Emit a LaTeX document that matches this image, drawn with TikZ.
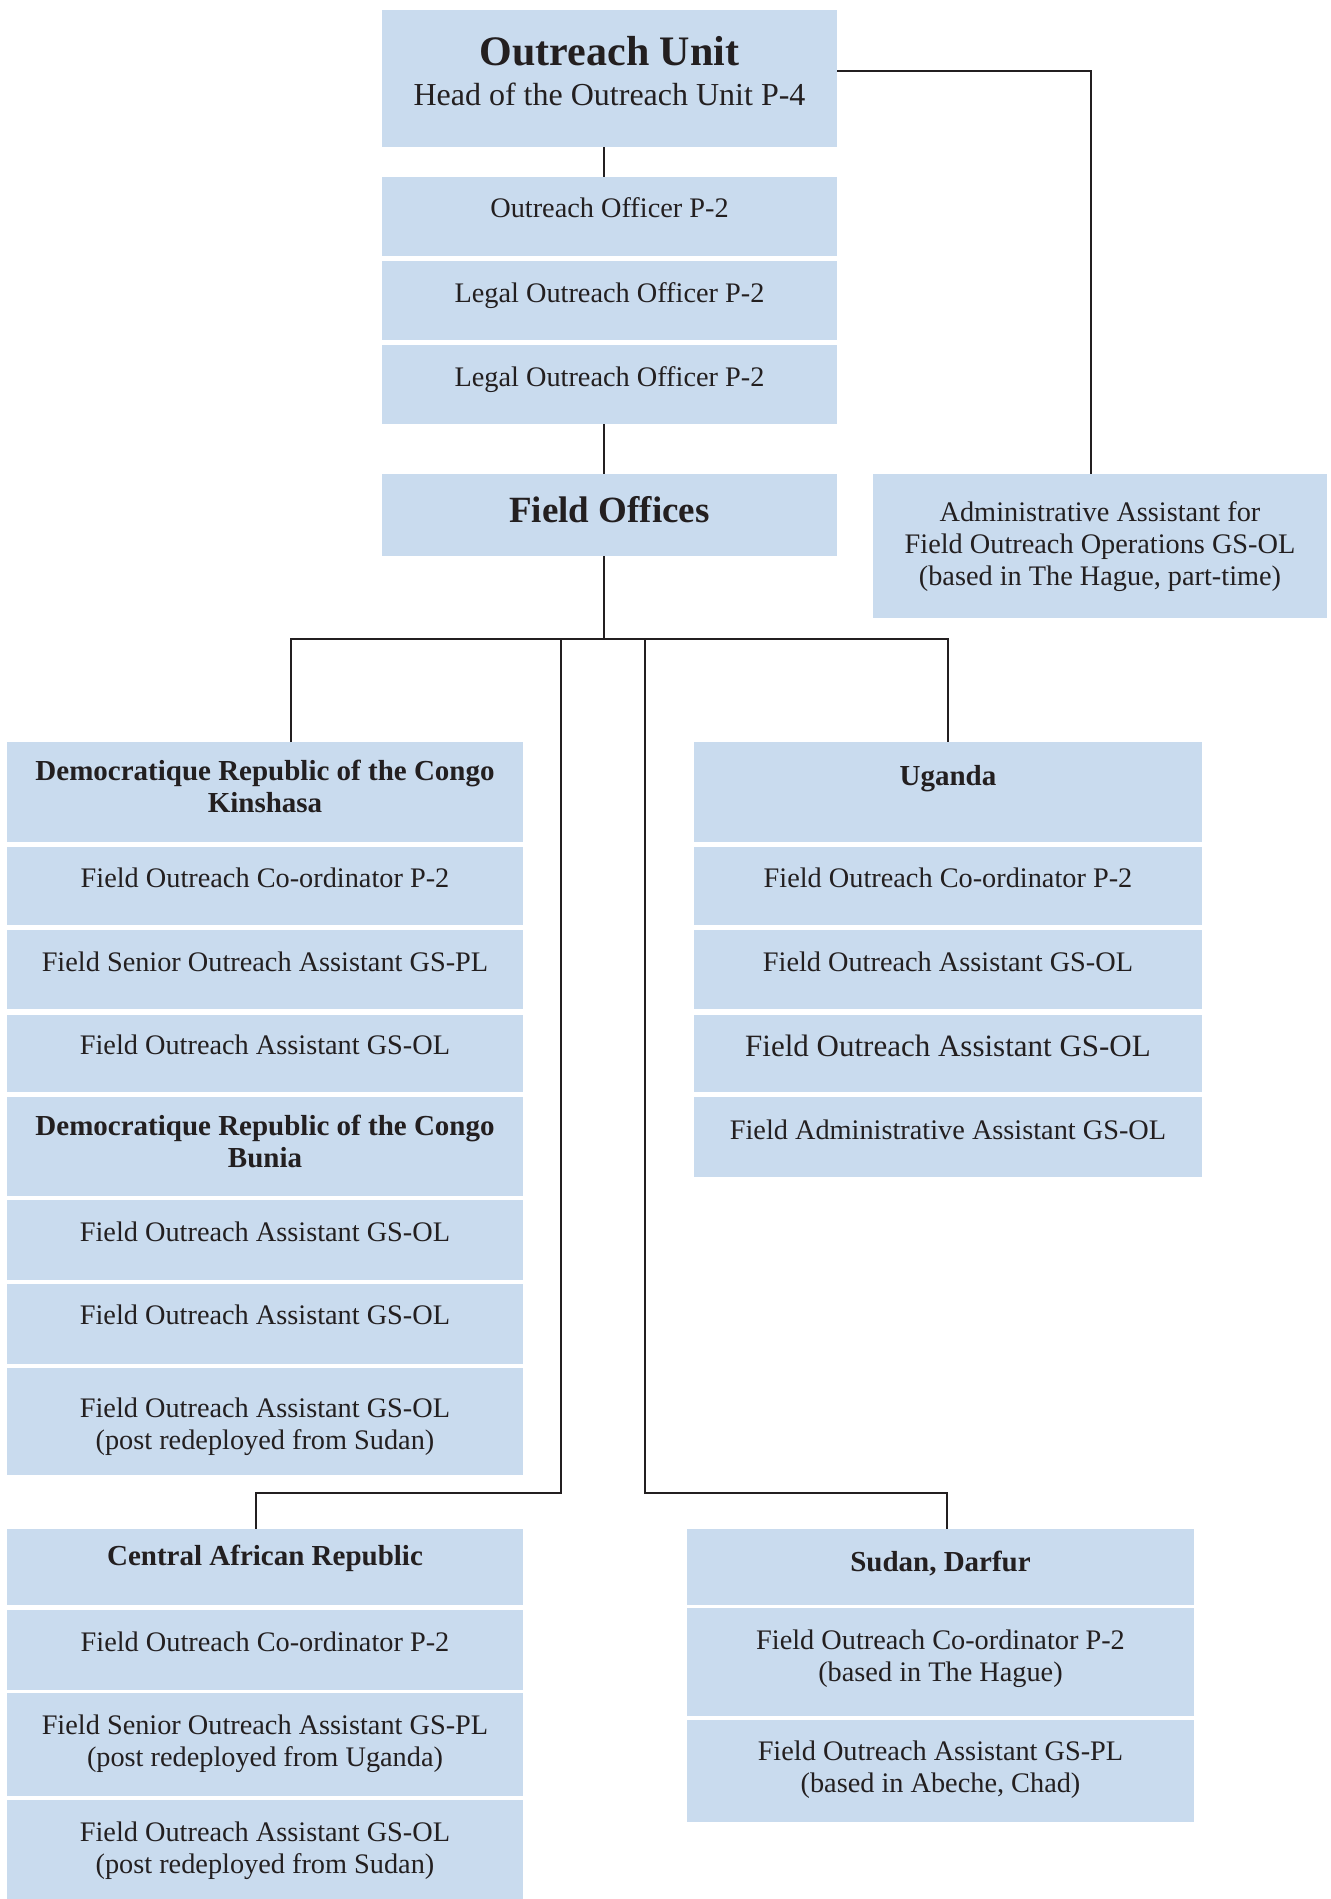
\documentclass[tikz,border=0pt]{standalone}
\usepackage{fontspec}
\setmainfont{Liberation Serif}
\definecolor{boxfill}{HTML}{C9DBEE}
\definecolor{ink}{HTML}{231F20}
\tikzset{
  box/.style={draw=none, fill=boxfill, inner sep=0pt, outer sep=0pt},
  txt/.style={inner sep=0pt, outer sep=0pt, align=center, text=ink, font=\fontsize{28.3}{32}\selectfont},
  head/.style={txt, font=\fontsize{29}{32}\selectfont\bfseries},
  conn/.style={draw=ink, line width=2.5pt}
}
\newcommand\orgbox[8][txt]{%
  \node[box, minimum width={#5-#3}, minimum height={#6-#4}] (#2) at ({(#3+#5)/2},{(#4+#6)/2}) {};
  \node[#1, anchor=north] (#2-t) at ({(#3+#5)/2},#7) {#8};
}
\begin{document}
\begin{tikzpicture}[x=1pt, y=-1pt]
\useasboundingbox (0,0) rectangle (1331,1899);

% top column
\node[box, minimum width=455, minimum height=137] (ou) at (609.5,78.5) {};
\node[txt, anchor=north, font=\fontsize{42}{46}\selectfont\bfseries] (ou-title) at (609.5,36) {Outreach Unit};
\node[txt, anchor=north, font=\fontsize{32}{36}\selectfont] (ou-sub) at (609.5,83) {Head of the Outreach Unit P-4};
\orgbox{oo}{382}{177}{837}{256}{198}{Outreach Officer P-2}
\orgbox{lo1}{382}{261}{837}{340}{283}{Legal Outreach Officer P-2}
\orgbox{lo2}{382}{345}{837}{424}{367}{Legal Outreach Officer P-2}
\orgbox[head]{fo}{382}{474}{837}{556}{496}{\fontsize{37}{40}\selectfont Field Offices}
\orgbox{admin}{873}{474}{1327}{618}{502}{Administrative Assistant for\\Field Outreach Operations GS-OL\\(based in The Hague, part-time)}

% DRC column
\orgbox[head]{drc1}{7}{742}{523}{842}{760}{Democratique Republic of the Congo\\Kinshasa}
\orgbox{d1a}{7}{847}{523}{925}{868}{Field Outreach Co-ordinator P-2}
\orgbox{d1b}{7}{930}{523}{1009}{952}{Field Senior Outreach Assistant GS-PL}
\orgbox{d1c}{7}{1015}{523}{1092}{1035}{Field Outreach Assistant GS-OL}
\orgbox[head]{drc2}{7}{1097}{523}{1196}{1115}{Democratique Republic of the Congo\\Bunia}
\orgbox{d2a}{7}{1200}{523}{1280}{1222}{Field Outreach Assistant GS-OL}
\orgbox{d2b}{7}{1284}{523}{1364}{1305}{Field Outreach Assistant GS-OL}
\orgbox{d2c}{7}{1368}{523}{1475}{1398}{Field Outreach Assistant GS-OL\\(post redeployed from Sudan)}

% CAR column
\orgbox[head]{car}{7}{1529}{523}{1605}{1545}{Central African Republic}
\orgbox{ca}{7}{1610}{523}{1690}{1632}{Field Outreach Co-ordinator P-2}
\orgbox{cb}{7}{1693}{523}{1796}{1715}{Field Senior Outreach Assistant GS-PL\\(post redeployed from Uganda)}
\orgbox{cc}{7}{1800}{523}{1899}{1822}{Field Outreach Assistant GS-OL\\(post redeployed from Sudan)}

% Uganda column
\orgbox[head]{ug}{694}{742}{1202}{842}{765}{Uganda}
\orgbox{ua}{694}{847}{1202}{925}{868}{Field Outreach Co-ordinator P-2}
\orgbox{ub}{694}{930}{1202}{1009}{952}{Field Outreach Assistant GS-OL}
\orgbox{uc}{694}{1015}{1202}{1092}{1035}{\fontsize{31}{35}\selectfont Field Outreach Assistant GS-OL}
\orgbox{ud}{694}{1097}{1202}{1177}{1120}{Field Administrative Assistant GS-OL}

% Sudan column
\orgbox[head]{sd}{687}{1529}{1194}{1605}{1551}{Sudan, Darfur}
\orgbox{sa}{687}{1608}{1194}{1716}{1630}{Field Outreach Co-ordinator P-2\\(based in The Hague)}
\orgbox{sb}{687}{1720}{1194}{1822}{1741}{Field Outreach Assistant GS-PL\\(based in Abeche, Chad)}

% connectors
\coordinate (bus) at (604,639);
\coordinate (bl) at (561,639);
\coordinate (br) at (645,639);
\coordinate (lowbus) at (0,1493);
\draw[conn] ([xshift=-5.5pt]ou.south) -- ([xshift=-5.5pt]oo.north);
\draw[conn] ([xshift=-5.5pt]lo2.south) -- ([xshift=-5.5pt]fo.north);
\draw[conn] ([yshift=7.5pt]ou.east) -| ([xshift=-9pt]admin.north);
\draw[conn] ([xshift=-5.5pt]fo.south) -- (bus);
\draw[conn] ([xshift=26pt]drc1.north) |- (bus) -| (ug.north);
\draw[conn] (bl) -- (bl |- lowbus) -| ([xshift=-9pt]car.north);
\draw[conn] (br) -- (br |- lowbus) -| ([xshift=6.5pt]sd.north);
\end{tikzpicture}
\end{document}
